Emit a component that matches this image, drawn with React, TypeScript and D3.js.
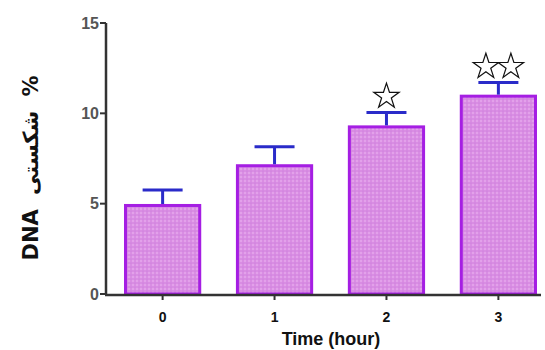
import * as d3 from "d3";

const CATEGORIES = ["0", "1", "2", "3"];
const MEANS = [4.9, 7.1, 9.25, 10.95];
const ERRORS = [0.85, 1.05, 0.8, 0.75];
const STARS = [0, 0, 1, 2];
const Y_TICKS = [0, 5, 10, 15];

const W = 545;
const H = 350;

export default function App() {
  const x = d3.scaleBand<string>().domain(CATEGORIES).range([124, 537]).paddingInner(0.31).paddingOuter(0);
  const y = d3.scaleLinear().domain([0, 15]).range([294, 23]);
  const bw = x.bandwidth();
  const star = d3.symbol().type(d3.symbolStar).size(200)();

  return (
    <svg width={W} height={H} style={{ position: "absolute", left: 0, top: 0, background: "#fff" }}
      fontFamily="Liberation Sans, Arial, sans-serif">
      <defs>
        <pattern id="dots" width="4" height="4" patternUnits="userSpaceOnUse">
          <rect width="4" height="4" fill="#d98de3" />
          <circle cx="1" cy="1" r="0.8" fill="#efbaf3" />
          <circle cx="3" cy="3" r="0.6" fill="#c577d8" />
        </pattern>
      </defs>

      {/* bars */}
      {CATEGORIES.map((c, i) => (
        <rect key={c} x={x(c)! + 1.5} y={y(MEANS[i])} width={bw - 3} height={y(0) - y(MEANS[i])}
          fill="url(#dots)" stroke="#a51ee3" strokeWidth={3} />
      ))}

      {/* error bars */}
      {CATEGORIES.map((c, i) => {
        const cx = x(c)! + bw / 2;
        const top = y(MEANS[i] + ERRORS[i]);
        return (
          <g key={c} stroke="#2a2bc9" strokeWidth={3}>
            <line x1={cx} x2={cx} y1={y(MEANS[i]) - 1.5} y2={top} />
            <line x1={cx - 20} x2={cx + 20} y1={top} y2={top} />
          </g>
        );
      })}

      {/* significance stars */}
      {CATEGORIES.map((c, i) => {
        const n = STARS[i];
        const cx = x(c)! + bw / 2;
        const cy = y(MEANS[i] + ERRORS[i]) - 16;
        return d3.range(n).map(k => (
          <path key={c + k} d={star!} fill="#fff" stroke="#111" strokeWidth={1.2}
            transform={`translate(${cx + (k - (n - 1) / 2) * 25},${cy})`} />
        ));
      })}

      {/* y axis */}
      <line x1={106} x2={106} y1={y(15)} y2={y(0) + 1} stroke="#333" strokeWidth={2.5} />
      {Y_TICKS.map(t => (
        <g key={t}>
          <line x1={100} x2={106} y1={y(t)} y2={y(t)} stroke="#333" strokeWidth={2} />
          <text x={99} y={y(t)} dy="0.35em" textAnchor="end" fontSize={16} fontWeight="bold" fill="#555">{t}</text>
        </g>
      ))}

      {/* x axis */}
      <line x1={105} x2={541} y1={y(0) + 1} y2={y(0) + 1} stroke="#333" strokeWidth={2.5} />
      {CATEGORIES.map(c => {
        const cx = x(c)! + bw / 2;
        return (
          <g key={c}>
            <line x1={cx} x2={cx} y1={y(0) + 1} y2={y(0) + 6} stroke="#333" strokeWidth={2} />
            <text x={cx} y={322} textAnchor="middle" fontSize={14} fontWeight="bold" fill="#111">{c}</text>
          </g>
        );
      })}

      <text x={331} y={345} textAnchor="middle" fontSize={18} fontWeight="bold" fill="#111">Time (hour)</text>
      <text transform="translate(38,168) rotate(-90)" textAnchor="middle" fontSize={21} fontWeight="bold" fill="#111"
        fontFamily="DejaVu Sans, Liberation Sans, sans-serif" style={{ wordSpacing: "7px" }}>DNA شکستی %</text>
    </svg>
  );
}
